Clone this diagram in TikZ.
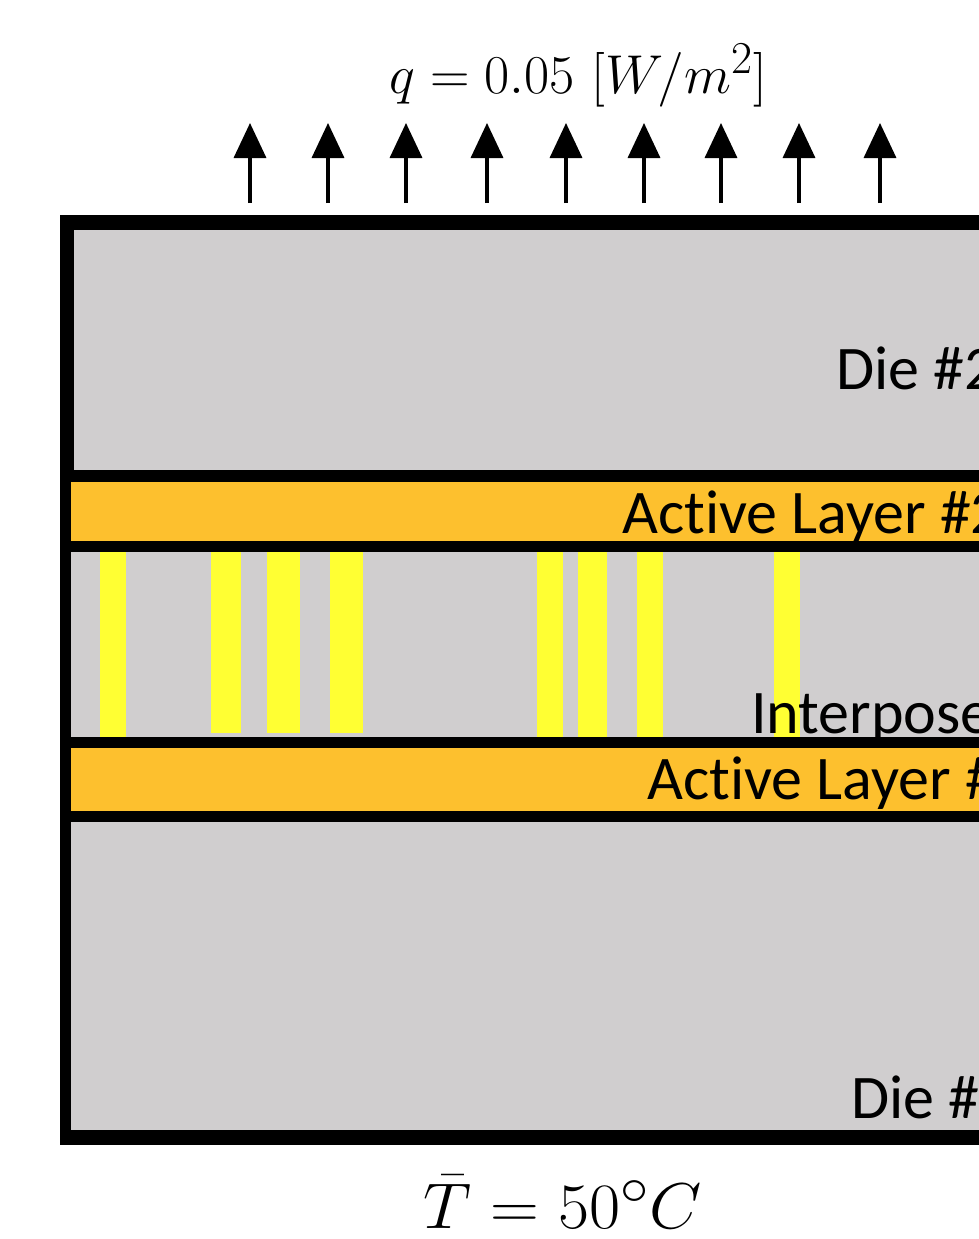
\documentclass[tikz,border=0pt]{standalone}
\usepackage[no-math]{fontspec}
\newfontfamily\carl[Ligatures=NoCommon]{Carlito}
\usetikzlibrary{arrows.meta}
\definecolor{diegray}{RGB}{208,206,207}
\definecolor{actorange}{RGB}{253,192,46}
\definecolor{viayellow}{RGB}{255,255,51}
\begin{document}
\begin{tikzpicture}[x=1pt,y=-1pt,
  lbl/.style={font=\carl\fontsize{62}{70}\selectfont, anchor=base west, inner sep=0pt},
  mathlbl/.style={anchor=base, inner sep=0pt},
  fluxarrow/.style={line width=3.5pt, -{Triangle[width=32pt,length=35pt]}},
  via/.style={fill=viayellow},
  layergray/.style={fill=diegray},
  layerorange/.style={fill=actorange}]
\useasboundingbox (0,0) rectangle (979,1239);
\clip (0,0) rectangle (979,1239);
% package outline
\fill[black] (60,215) rectangle (1100,1145);
\fill[layergray] (74,230) rectangle (1100,470);
\fill[layerorange] (71,482) rectangle (1100,541);
\fill[layergray] (71,552) rectangle (1100,737);
\fill[layerorange] (71,748) rectangle (1100,811);
\fill[layergray] (71,822) rectangle (1100,1130);
% vias
\fill[via] (100,552) rectangle (126,737);
\fill[via] (211,552) rectangle (241,733);
\fill[via] (267,552) rectangle (300,733);
\fill[via] (330,552) rectangle (363,733);
\fill[via] (537,552) rectangle (563,737);
\fill[via] (578,552) rectangle (607,737);
\fill[via] (637,552) rectangle (663,737);
\fill[via] (774,552) rectangle (800,737);
% labels
\node[lbl] (die2) at (836,389) {Die \#2};
\node[lbl] (act2) at (622,533) {Active Layer \#2};
\node[lbl] (inter) at (751,733) {Interposer};
\node[lbl] (act1) at (647,799) {Active Layer \#1};
\node[lbl] (die1) at (851,1118) {Die \#1};
\node[mathlbl] (flux) at (578,93) {\scalebox{2.2}{\Huge $q = 0.05\ [W/m^2]$}};
\node[mathlbl] (temp) at (563,1228) {\scalebox{2.72}[2.6]{\Huge $\bar{T} = 50^\circ C$}};
% heat flux arrows
\foreach \i/\x in {1/250,2/328,3/406,4/487,5/566,6/644,7/721,8/799,9/880}{
  \coordinate (b\i) at (\x,203);
  \coordinate (t\i) at (\x,123);
  \draw[fluxarrow] (b\i) -- (t\i);
}
\end{tikzpicture}
\end{document}
